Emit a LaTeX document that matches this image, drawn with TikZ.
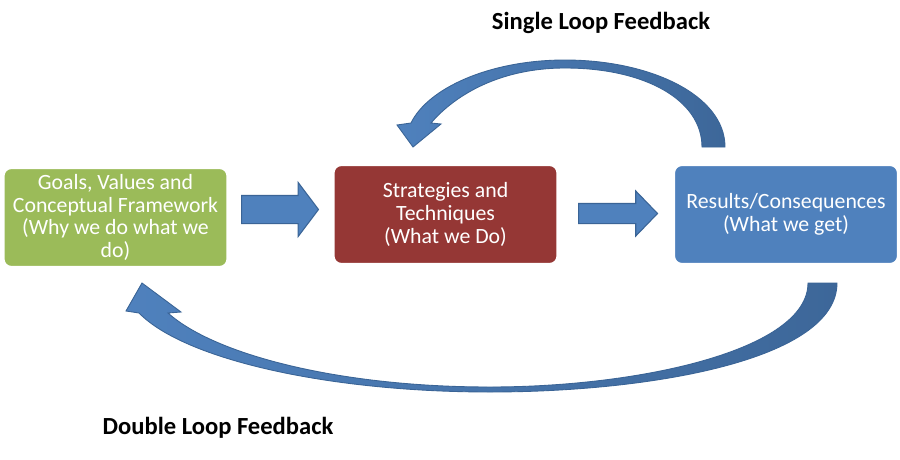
\documentclass[tikz,border=0pt]{standalone}
\usepackage{fontspec}
\setmainfont{Carlito}
\usepackage{xcolor}
\definecolor{goal-green}{HTML}{9BBB59}
\definecolor{strat-red}{HTML}{953735}
\definecolor{res-blue}{HTML}{4F81BD}
\definecolor{loop-dark}{HTML}{3D6799}
\definecolor{arrow-line}{HTML}{3A6496}
\usetikzlibrary{shapes.arrows}
\tikzset{
	box/.style={rounded corners=4.5pt,draw=white,line width=1.2pt,text=white,
		align=center,font=\fontsize{12.4}{13}\selectfont,inner sep=0pt,
		minimum width=4.48cm,minimum height=1.98cm},
	blockarrow/.style={single arrow,draw=arrow-line,fill=res-blue,line width=.6pt,
		inner xsep=0pt,single arrow head indent=0pt,anchor=tail},
	loop/.style={draw=arrow-line,line width=.5pt},
	looplabel/.style={font=\fontsize{14}{16}\selectfont\bfseries,text=black}
}
\begin{document}
\begin{tikzpicture}[x=0.02cm,y=-0.02cm]
	\useasboundingbox[fill=white] (0,0) rectangle (900,460);
	
	% the three boxes
	\node[box,fill=goal-green] (goals) at (115.5,217.5)
		{Goals, Values and\\Conceptual Framework\\(Why we do what we\\do)};
	\node[box,fill=strat-red] (strat) at (445.5,214.5)
		{Strategies and\\Techniques\\(What we Do)};
	\node[box,fill=res-blue] (result) at (786,214.5)
		{Results/Consequences\\(What we get)};
	
	% block arrows between the boxes
	\node[blockarrow,minimum height=1.54cm,inner ysep=.27cm,
		single arrow head extend=.26cm,single arrow tip angle=106] (go2st) at (241,209.5) {};
	\node[blockarrow,minimum height=1.58cm,inner ysep=.19cm,
		single arrow head extend=.25cm,single arrow tip angle=92] (st2res) at (578,213.5) {};
	
	% single loop
	\shade[loop,left color=res-blue,right color=loop-dark]
		(725,147) .. controls (725,95) and (650,60) .. (565,60)
		.. controls (490,60) and (428,88) .. (411,123)
		-- (397,125) -- (413,147) -- (441,124) -- (431,123)
		.. controls (455,95) and (500,68) .. (565,68)
		.. controls (645,68) and (702,100) .. (702,147) -- cycle;
	
	% double loop
	\shade[loop,left color=res-blue,right color=loop-dark]
		(837,283) .. controls (837,360) and (650,392) .. (490,392)
		.. controls (330,392) and (185,360) .. (139,313)
		-- (126,311) -- (142,283) -- (181,312) -- (168,313)
		.. controls (215,355) and (340,387) .. (490,387)
		.. controls (640,387) and (808,350) .. (808,283) -- cycle;
	
	\node[looplabel] (single) at (601,23) {Single Loop Feedback};
	\node[looplabel] (double) at (218,428) {Double Loop Feedback};
\end{tikzpicture}
\end{document}
